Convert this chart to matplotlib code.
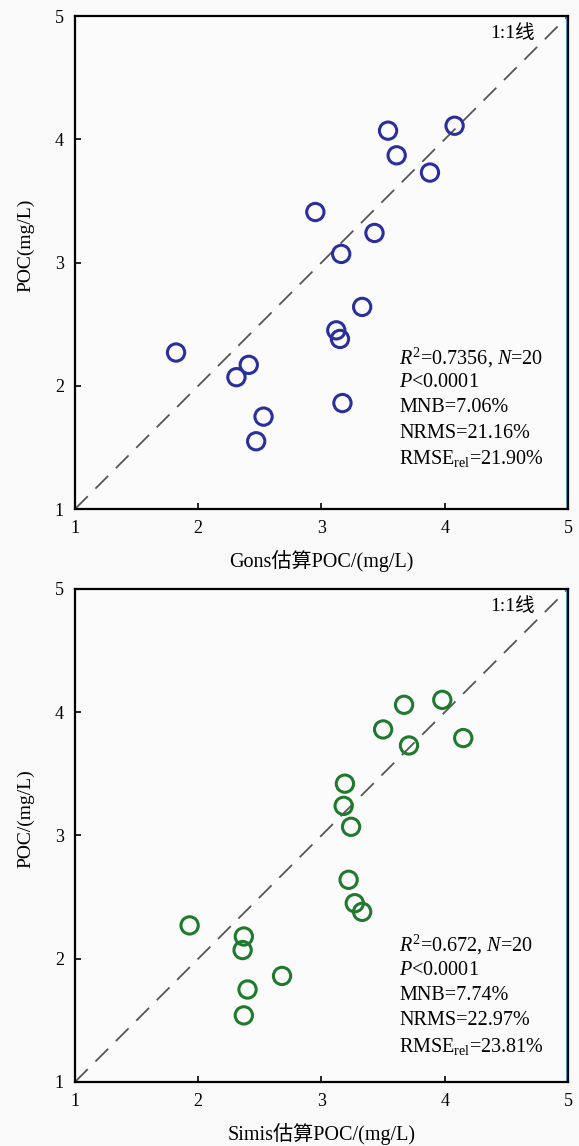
import matplotlib
matplotlib.use("Agg")
import matplotlib.pyplot as plt
import numpy as np

plt.rcParams['font.family'] = ['Liberation Serif', 'Noto Sans CJK SC']
plt.rcParams['mathtext.fontset'] = 'custom'
plt.rcParams['mathtext.rm'] = 'Liberation Serif'
plt.rcParams['mathtext.it'] = 'Liberation Serif:italic'

# Gons estimated vs measured POC
gons_x = [1.82, 2.31, 2.41, 2.47, 2.53, 2.95, 3.12, 3.15, 3.16, 3.17, 3.33, 3.43, 3.54, 3.61, 3.88, 4.08]
gons_y = [2.27, 2.07, 2.17, 1.55, 1.75, 3.41, 2.45, 2.38, 3.07, 1.86, 2.64, 3.24, 4.07, 3.87, 3.73, 4.11]

# Simis estimated vs measured POC
simis_x = [1.93, 2.36, 2.37, 2.37, 2.40, 2.68, 3.18, 3.19, 3.22, 3.24, 3.27, 3.33, 3.50, 3.67, 3.71, 3.98, 4.15]
simis_y = [2.27, 2.07, 2.18, 1.54, 1.75, 1.86, 3.24, 3.42, 2.64, 3.07, 2.45, 2.38, 3.86, 4.06, 3.73, 4.10, 3.79]

ticks = [1, 2, 3, 4, 5]
line11 = [1, 5]

panels = [
    dict(x=gons_x, y=gons_y, color='#2b2f9e',
         xlabel='Gons估算POC/(mg/L)', ylabel='POC(mg/L)', stat_top=2.23,
         stats=[r'$R^2$=0.7356, $N$=20', r'$P$<0.0001', 'MNB=7.06%',
                'NRMS=21.16%', r'RMSE$_{\mathrm{rel}}$=21.90%']),
    dict(x=simis_x, y=simis_y, color='#1f7a2e',
         xlabel='Simis估算POC/(mg/L)', ylabel='POC/(mg/L)', stat_top=2.11,
         stats=[r'$R^2$=0.672, $N$=20', r'$P$<0.0001', 'MNB=7.74%',
                'NRMS=22.97%', r'RMSE$_{\mathrm{rel}}$=23.81%']),
]

fig = plt.figure(figsize=(5.79, 11.46), dpi=100)
fig.patch.set_facecolor('#f9f9f9')
rects = [[0.1295, 0.5558, 0.8515, 0.4302], [0.1295, 0.0559, 0.8515, 0.4302]]

for rect, p in zip(rects, panels):
    ax = fig.add_axes(rect)
    ax.set_facecolor('#fbfbfb')
    ax.set_xlim(1, 5)
    ax.set_ylim(1, 5)
    ax.plot(line11, line11, color='#555555', lw=1.3, dashes=(10, 6))
    ax.scatter(p['x'], p['y'], s=155, facecolors='none', edgecolors=p['color'],
               linewidths=2.2, zorder=3)
    ax.axvline(4.99, color='#2aa9dc', lw=1.2)
    ax.set_xticks(ticks)
    ax.set_yticks(ticks)
    ax.tick_params(direction='in', length=4, width=1.2, labelsize=13, pad=8)
    for s in ax.spines.values():
        s.set_linewidth(1.6)
    ax.set_xlabel(p['xlabel'], fontsize=14.5, labelpad=9)
    ax.set_ylabel(p['ylabel'], fontsize=14)
    ax.yaxis.set_label_coords(-0.083, 0.535)
    ax.text(4.73, 4.86, '1:1线', fontsize=14, ha='right', va='center')
    for i, s in enumerate(p['stats']):
        ax.text(3.63, p['stat_top'] - i * 0.205, s, fontsize=14.5, ha='left', va='center')

fig.savefig('out.png', dpi=100, facecolor=fig.get_facecolor())
